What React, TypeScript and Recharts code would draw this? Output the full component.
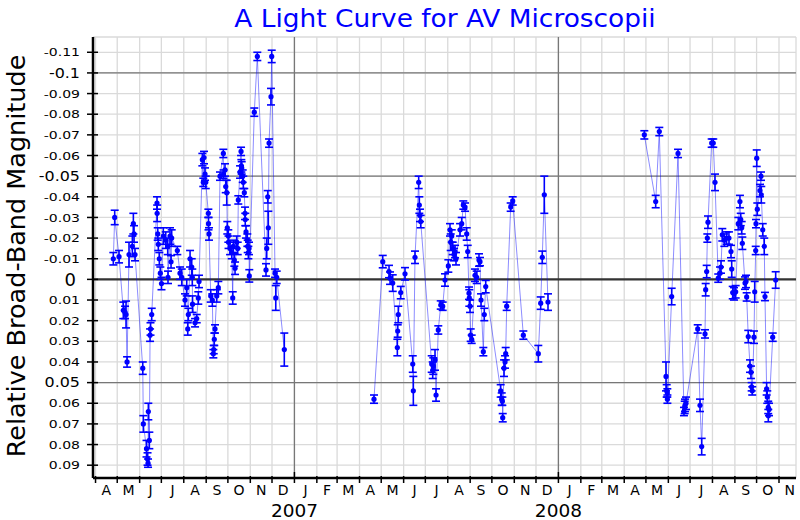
import React from 'react';
import { ComposedChart, Line, XAxis, YAxis, CartesianGrid, ReferenceLine, ErrorBar } from 'recharts';

// observation dates are counted in days from 1 April 2006
const DAYS_2006 = [
  24.6, 26.5, 32.5, 38.4, 40.8, 42.2, 43.6, 46.3, 50.9, 52.3, 53.2, 54.6, 65.3, 66.1, 70.5, 71.9, 72.6, 73.0, 74.4, 75.4,
  76.0, 77.7, 85.0, 85.2, 86.0, 86.8, 88.2, 89.6, 91.2, 93.7, 97.1, 99.8, 100.2, 103.0, 104.4, 105.3, 113.1, 116.8, 119.2, 123.7,
  126.1, 127.5, 128.3, 130.7, 133.0, 133.8, 134.1, 137.6, 139.9, 142.1, 143.1, 147.7, 149.0, 150.0, 151.4, 152.4, 156.0, 156.2, 156.9, 159.3,
  161.5, 162.9, 163.4, 164.2, 165.2, 167.6, 169.8, 172.1, 176.7, 177.0, 179.0, 180.0, 181.4, 182.2, 183.6, 183.9, 186.0, 188.3, 189.7, 190.5,
  191.9, 192.9, 195.2, 196.6, 197.4, 199.8, 201.2, 201.6, 202.1, 203.5, 204.3, 205.7, 206.7, 207.0, 208.1, 209.9, 210.4, 211.3, 212.2, 212.6,
  219.5, 223.7, 235.7, 236.7, 238.1, 238.9, 239.9, 242.6, 243.6, 248.2, 249.2, 250.5, 261.0,
];
const MAGS_2006 = [
  -0.010, -0.030, -0.011, 0.015, 0.016, 0.017, 0.040, -0.012, -0.016, -0.027, -0.022, -0.012, 0.043, 0.070, 0.082, 0.087, 0.089, 0.064, 0.078, 0.027,
  0.024, 0.017, -0.037, -0.032, -0.022, -0.017, -0.010, -0.003, 0.002, -0.021, -0.019, -0.016, -0.001, -0.021, -0.0085, -0.020, -0.014, -0.003, -0.001, 0.010,
  0.004, 0.024, 0.017, -0.010, -0.006, -0.001, 0.012, 0.021, 0.019, 0.009, 0.001, -0.058, -0.047, -0.059, -0.051, -0.047, -0.032, -0.027, -0.022, 0.008,
  0.010, 0.036, 0.034, 0.029, 0.024, 0.008, 0.004, -0.050, -0.061, -0.051, -0.053, -0.045, -0.042, -0.025, -0.021, -0.018, -0.015, -0.013, 0.009, -0.016,
  -0.0094, -0.0054, -0.018, -0.015, -0.0385, -0.052, -0.062, -0.055, -0.054, -0.050, -0.047, -0.042, -0.032, -0.029, -0.023, -0.019, -0.016, -0.013, -0.015, -0.0017,
  -0.081, -0.108, -0.0046, -0.015, -0.040, -0.025, -0.066, -0.0885, -0.108, -0.003, 0.009, -0.001, 0.034,
];
const ERRS_2006 = [
  0.003, 0.0035, 0.003, 0.004, 0.003, 0.0065, 0.0025, 0.006, 0.005, 0.005, 0.004, 0.003, 0.003, 0.004, 0.004, 0.003, 0.002, 0.004, 0.004, 0.003,
  0.003, 0.003, 0.003, 0.004, 0.003, 0.003, 0.003, 0.003, 0.003, 0.004, 0.004, 0.004, 0.003, 0.004, 0.003, 0.004, 0.002, 0.003, 0.004, 0.003,
  0.004, 0.003, 0.003, 0.004, 0.004, 0.004, 0.004, 0.002, 0.002, 0.003, 0.003, 0.003, 0.002, 0.003, 0.003, 0.003, 0.002, 0.003, 0.003, 0.003,
  0.003, 0.002, 0.002, 0.003, 0.002, 0.003, 0.003, 0.002, 0.002, 0.002, 0.003, 0.003, 0.006, 0.003, 0.003, 0.003, 0.003, 0.003, 0.003, 0.003,
  0.003, 0.003, 0.003, 0.003, 0.002, 0.003, 0.002, 0.003, 0.003, 0.003, 0.003, 0.002, 0.003, 0.003, 0.003, 0.003, 0.003, 0.003, 0.003, 0.003,
  0.002, 0.002, 0.003, 0.005, 0.003, 0.008, 0.002, 0.004, 0.003, 0.002, 0.006, 0.003, 0.008,
];

const DAYS_2007 = [
  385.0, 397.1, 405.8, 407.2, 410.9, 417.3, 417.8, 418.6, 422.0, 427.9, 438.6, 439.4, 441.7, 446.8, 447.7, 448.6, 449.6, 464.8, 466.2, 467.0,
  469.4, 470.8, 473.9, 477.3, 480.0, 483.2, 487.8, 490.1, 491.1, 492.5, 493.9, 495.7, 497.1, 498.4, 504.0, 506.3, 508.5, 510.9, 513.2, 514.6,
  516.4, 516.8, 517.8, 518.7, 520.1, 524.7, 527.0, 530.2, 531.6, 533.0, 536.2, 537.5, 539.5, 560.2, 561.6, 562.5, 563.0, 564.8, 566.2, 567.1,
  568.5, 574.0, 576.8, 591.5, 612.2, 615.5, 617.7, 620.5, 625.6,
];
const MAGS_2007 = [
  0.058, -0.0086, -0.0038, -0.0006, 0.0018, 0.033, 0.025, 0.017, 0.0064, -0.0027, 0.041, 0.054, -0.0107, -0.047, -0.036, -0.031, -0.028, 0.041, 0.044, 0.042,
  0.039, 0.056, 0.0245, 0.0124, 0.013, 0.0003, -0.0065, -0.024, -0.018, -0.021, -0.015, -0.012, -0.0135, -0.010, -0.024, -0.027, -0.036, -0.035, -0.022, -0.0135,
  0.0067, 0.009, 0.013, 0.027, 0.029, -0.002, -0.001, -0.0094, -0.0086, 0.010, 0.035, 0.017, 0.0035, 0.054, 0.058, 0.059, 0.067, 0.043, 0.040, 0.036,
  0.013, -0.035, -0.038, 0.027, 0.036, 0.0115, -0.0107, -0.041, 0.011,
];
const ERRS_2007 = [
  0.002, 0.003, 0.003, 0.003, 0.004, 0.004, 0.003, 0.004, 0.003, 0.003, 0.004, 0.007, 0.003, 0.003, 0.004, 0.003, 0.003, 0.004, 0.004, 0.004,
  0.005, 0.003, 0.002, 0.002, 0.002, 0.003, 0.003, 0.003, 0.004, 0.003, 0.003, 0.003, 0.003, 0.003, 0.003, 0.003, 0.002, 0.002, 0.003, 0.003,
  0.003, 0.004, 0.003, 0.003, 0.002, 0.003, 0.003, 0.003, 0.002, 0.003, 0.002, 0.003, 0.003, 0.003, 0.003, 0.002, 0.002, 0.004, 0.003, 0.003,
  0.002, 0.002, 0.002, 0.002, 0.004, 0.003, 0.003, 0.009, 0.004,
];

const DAYS_2008 = [
  758.8, 774.5, 779.5, 788.8, 789.7, 790.6, 790.7, 796.6, 805.4, 813.6, 814.6, 815.0, 816.4, 832.6, 835.8, 838.1, 842.7, 843.6, 845.0, 845.9,
  846.8, 851.9, 854.1, 856.5, 861.0, 863.4, 864.8, 866.6, 869.4, 872.6, 875.8, 878.6, 879.6, 881.0, 882.8, 885.1, 888.7, 891.0, 892.1, 893.4,
  894.3, 898.0, 899.4, 900.3, 902.5, 904.9, 906.2, 907.2, 908.0, 910.4, 911.4, 912.8, 913.2, 914.2, 915.0, 918.7, 920.1, 920.5, 922.5, 924.6,
  925.6, 927.9, 928.8, 930.1, 930.2, 931.2, 936.3, 940.4,
];
const MAGS_2008 = [
  -0.070, -0.0377, -0.0716, 0.047, 0.054, 0.055, 0.058, 0.0083, -0.061, 0.064, 0.062, 0.061, 0.060, 0.024, 0.061, 0.081, 0.0264, 0.005, -0.0038, -0.020,
  -0.0277, -0.066, -0.066, -0.047, -0.0006, -0.003, -0.006, -0.0216, -0.019, -0.020, -0.020, -0.0135, -0.005, 0.0064, 0.007, 0.006, -0.027, -0.0377, -0.029, -0.025,
  -0.0175, 0.0018, 0.001, 0.0085, 0.0277, 0.042, 0.045, 0.052, 0.054, 0.028, 0.006, -0.014, -0.027, -0.0587, -0.034, -0.043, -0.050, -0.041, -0.024, -0.016,
  0.0083, 0.053, 0.057, 0.062, 0.066, 0.063, 0.028, 0.0003,
];
const ERRS_2008 = [
  0.002, 0.003, 0.002, 0.007, 0.003, 0.002, 0.002, 0.004, 0.002, 0.002, 0.003, 0.003, 0.003, 0.002, 0.003, 0.004, 0.002, 0.003, 0.003, 0.002,
  0.003, 0.002, 0.002, 0.004, 0.002, 0.003, 0.003, 0.003, 0.003, 0.003, 0.003, 0.003, 0.004, 0.003, 0.003, 0.003, 0.003, 0.003, 0.003, 0.003,
  0.003, 0.003, 0.003, 0.002, 0.003, 0.003, 0.003, 0.002, 0.002, 0.003, 0.005, 0.002, 0.002, 0.004, 0.003, 0.003, 0.002, 0.004, 0.003, 0.004,
  0.002, 0.003, 0.003, 0.003, 0.003, 0.003, 0.002, 0.004,
];

const MONTH_LETTERS = [
  'A', 'M', 'J', 'J', 'A', 'S', 'O', 'N', 'D',
  'J', 'F', 'M', 'A', 'M', 'J', 'J', 'A', 'S', 'O', 'N', 'D',
  'J', 'F', 'M', 'A', 'M', 'J', 'J', 'A', 'S', 'O', 'N',
];
const YEAR_LABELS = ['2007', '2008'];
const MAG_TICKS = [
  -0.11, -0.1, -0.09, -0.08, -0.07, -0.06, -0.05, -0.04, -0.03, -0.02, -0.01,
  0, 0.01, 0.02, 0.03, 0.04, 0.05, 0.06, 0.07, 0.08, 0.09,
];
const MAJOR_MAGS = [-0.1, -0.05, 0.05];

const DAY_MS = 86400000;
const START = Date.UTC(2006, 3, 1);
const MONTH_TICKS = MONTH_LETTERS.map((_, i) => (Date.UTC(2006, 3 + i, 1) - START) / DAY_MS);
const YEAR_DAYS = YEAR_LABELS.map((y) => (Date.UTC(Number(y), 0, 1) - START) / DAY_MS);

const X_MIN = -3.5;
const X_MAX = 968.5;
const Y_MIN = -0.1174;
const Y_MAX = 0.0962;

const W = 800;
const H = 520;
const MARGIN = { top: 37, right: 4, bottom: 0, left: 0 };
const Y_AXIS_W = 93;
const X_AXIS_H = 42;
const PX_PER_DAY = (W - MARGIN.right - Y_AXIS_W) / (X_MAX - X_MIN);

const FONT = '"DejaVu Sans", Verdana, sans-serif';
const BLUE = '#0000ff';

const toSeason = (days: number[], mags: number[], errs: number[]) =>
  days.map((day, i) => ({ day, mag: mags[i], err: errs[i] }));

const SEASONS = [
  toSeason(DAYS_2006, MAGS_2006, ERRS_2006),
  toSeason(DAYS_2007, MAGS_2007, ERRS_2007),
  toSeason(DAYS_2008, MAGS_2008, ERRS_2008),
];

const MonthTick = (props: any) => {
  const { x, y, payload } = props;
  const i = MONTH_TICKS.indexOf(payload.value);
  const yi = YEAR_DAYS.indexOf(payload.value);
  const next = i + 1 < MONTH_TICKS.length ? MONTH_TICKS[i + 1] : payload.value + 30;
  const half = ((next - payload.value) * PX_PER_DAY) / 2;
  return (
    <g>
      <line x1={x} x2={x} y1={yi >= 0 ? y - 6 : y - 2} y2={y + 5} stroke="#000" strokeWidth={1.5} />
      <text x={x + half} y={y + 17} textAnchor="middle" fontSize={14} fontFamily={FONT} fill="#000">
        {MONTH_LETTERS[i]}
      </text>
      {yi >= 0 && (
        <text x={x} y={y + 39} textAnchor="middle" fontSize={18.5} fontFamily={FONT} fill="#000">
          {YEAR_LABELS[yi]}
        </text>
      )}
    </g>
  );
};

const MagTick = (props: any) => {
  const { x, y, payload } = props;
  const v = payload.value as number;
  const label = String(Number(v.toFixed(2)));
  const isZero = v === 0;
  const major = MAJOR_MAGS.includes(v);
  const size = isZero ? 18 : major ? 13.5 : 11.3;
  const stretch = isZero ? 1 : major ? 1.18 : 1.24;
  const right = isZero ? x - 17 : x - 13;
  return (
    <g>
      <line x1={x - 6} x2={x + 5} y1={y} y2={y} stroke="#000" strokeWidth={1.5} />
      <text
        transform={`translate(${right},${y}) scale(${stretch},1)`}
        textAnchor="end"
        dy="0.36em"
        fontSize={size}
        fontFamily={FONT}
        fill="#000"
      >
        {label}
      </text>
    </g>
  );
};

const frame = { stroke: '#000', strokeWidth: 2.5 };

export default function App() {
  return (
    <div style={{ position: 'absolute', left: 0, top: 0, width: W, height: H, background: '#fff' }}>
      <ComposedChart width={W} height={H} margin={MARGIN}>
        <CartesianGrid stroke="#dadada" strokeWidth={1.3} />
        <XAxis
          dataKey="day"
          type="number"
          domain={[X_MIN, X_MAX]}
          ticks={MONTH_TICKS}
          interval={0}
          allowDataOverflow
          tick={<MonthTick />}
          tickLine={false}
          tickSize={0}
          tickMargin={0}
          height={X_AXIS_H}
          axisLine={frame}
        />
        <XAxis xAxisId="top" orientation="top" type="number" domain={[X_MIN, X_MAX]} height={0} tick={false} tickLine={false} axisLine={frame} />
        <YAxis
          type="number"
          domain={[Y_MIN, Y_MAX]}
          reversed
          ticks={MAG_TICKS}
          interval={0}
          allowDataOverflow
          tick={<MagTick />}
          tickLine={false}
          tickSize={0}
          tickMargin={0}
          width={Y_AXIS_W}
          axisLine={frame}
        />
        <YAxis yAxisId="right" orientation="right" type="number" domain={[Y_MIN, Y_MAX]} width={0} tick={false} tickLine={false} axisLine={frame} />
        {MAJOR_MAGS.map((m) => (
          <ReferenceLine key={`m${m}`} y={m} stroke="#777" strokeWidth={1.3} />
        ))}
        {YEAR_DAYS.map((d) => (
          <ReferenceLine key={`y${d}`} x={d} stroke="#777" strokeWidth={1.3} />
        ))}
        <ReferenceLine y={0} stroke="#333" strokeWidth={2.2} />
        {SEASONS.map((s, i) => (
          <Line
            key={i}
            data={s}
            dataKey="mag"
            stroke={BLUE}
            strokeOpacity={0.45}
            strokeWidth={1}
            dot={{ r: 2.6, fill: BLUE, stroke: 'none' }}
            activeDot={false}
            isAnimationActive={false}
          >
            <ErrorBar dataKey="err" width={4} stroke={BLUE} strokeWidth={1.6} direction="y" isAnimationActive={false} />
          </Line>
        ))}
      </ComposedChart>
      <svg width={W} height={H} style={{ position: 'absolute', left: 0, top: 0, pointerEvents: 'none' }}>
        <text x={445} y={27} textAnchor="middle" fontSize={24} fontFamily={FONT} fill={BLUE} transform="translate(445,0) scale(1.1,1) translate(-445,0)">
          A Light Curve for AV Microscopii
        </text>
        <text x={-256} y={25} transform="rotate(-90)" textAnchor="middle" fontSize={25.5} fontFamily={FONT} fill="#000">
          Relative Broad-Band Magnitude
        </text>
      </svg>
    </div>
  );
}
